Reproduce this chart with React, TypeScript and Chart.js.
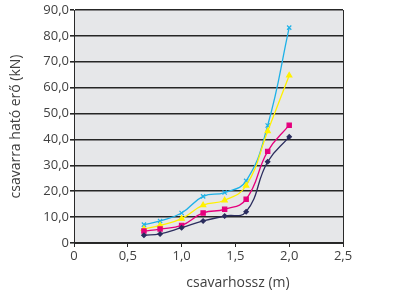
import React, { useEffect, useRef } from "react";
import { Chart, registerables } from "chart.js";

Chart.register(...registerables);

const lengths = [0.65, 0.8, 1.0, 1.2, 1.4, 1.6, 1.8, 2.0];
const seriesNavy = [3.0, 3.5, 5.9, 8.5, 10.4, 12.1, 31.4, 41.0];
const seriesMagenta = [4.6, 5.4, 6.8, 11.6, 13.0, 16.9, 35.4, 45.5];
const seriesYellow = [5.4, 6.8, 9.4, 14.6, 16.5, 22.2, 43.2, 64.7];
const seriesCyan = [7.1, 8.5, 11.6, 18.0, 19.5, 24.0, 45.4, 83.2];
const xTitle = "csavarhossz (m)";
const yTitle = "csavarra ható erő (kN)";

const FONT = "'Open Sans', 'DejaVu Sans', sans-serif";
const TEXT = "#404040";

const fmt = (v: number) => v.toFixed(1).replace(".", ",");

export default function App() {
  const ref = useRef<HTMLCanvasElement | null>(null);
  useEffect(() => {
    if (!ref.current) return;
    const mk = (data: number[], color: string, style: any, r: number) => ({
      data: lengths.map((x, i) => ({ x, y: data[i] })),
      borderColor: color,
      backgroundColor: color,
      borderWidth: 1.3,
      pointStyle: style,
      pointRadius: r,
      pointBorderWidth: 1.2,
      tension: 0.45,
      fill: false,
    });
    const bgPlugin = {
      id: "bg",
      beforeDraw(c: any) {
        const { ctx, chartArea: a } = c;
        ctx.save();
        ctx.fillStyle = "#e6e7e9";
        ctx.fillRect(a.left, a.top, a.right - a.left, a.bottom - a.top);
        ctx.restore();
      },
      afterDraw(c: any) {
        const { ctx, chartArea: a } = c;
        ctx.save();
        ctx.strokeStyle = "#2a2a2a";
        ctx.lineWidth = 1;
        ctx.beginPath();
        ctx.moveTo(a.right + 0.5, a.top);
        ctx.lineTo(a.right + 0.5, a.bottom);
        ctx.stroke();
        ctx.fillStyle = TEXT;
        ctx.font = `14px ${FONT}`;
        ctx.textAlign = "center";
        ctx.textBaseline = "middle";
        ctx.fillText(xTitle, 238, 283);
        ctx.restore();
      },
    };
    const chart = new Chart(ref.current, {
      type: "line",
      data: {
        datasets: [
          mk(seriesNavy, "#2b2d5e", "rectRot", 2.2),
          mk(seriesMagenta, "#e5007d", "rect", 3),
          mk(seriesYellow, "#fff100", "triangle", 3),
          mk(seriesCyan, "#1eb1e7", "crossRot", 3),
        ],
      },
      options: {
        animation: false,
        responsive: false,
        maintainAspectRatio: false,
        layout: { padding: { top: 10, right: 72, left: 0, bottom: 0 } },
        plugins: { legend: { display: false }, tooltip: { enabled: false } },
        scales: {
          x: {
            type: "linear",
            min: 0,
            max: 2.5,
            afterFit: (s: any) => {
              s.height = 55;
            },
            ticks: {
              stepSize: 0.5,
              color: TEXT,
              font: { size: 13, family: FONT },
              padding: 1,
              maxRotation: 0,
              callback: (v: any) => (v === 0 ? "0" : fmt(Number(v))),
            },
            grid: {
              drawOnChartArea: false,
              drawTicks: true,
              tickLength: 4,
              color: "#2a2a2a",
            },
            border: { color: "#2a2a2a", width: 1 },
          },
          y: {
            min: 0,
            max: 90,
            afterFit: (s: any) => {
              s.width = 74;
            },
            ticks: {
              stepSize: 10,
              color: TEXT,
              font: { size: 13, family: FONT },
              padding: 1,
              callback: (v: any) => (v === 0 ? "0" : fmt(Number(v))),
            },
            grid: {
              color: "#262626",
              lineWidth: 1.6,
              tickLength: 4,
            },
            border: { color: "#2a2a2a", width: 1 },
            title: {
              display: true,
              text: yTitle,
              color: TEXT,
              font: { size: 14, family: FONT },
              padding: { top: 8, bottom: 0 },
            },
          },
        },
      },
      plugins: [bgPlugin],
    });
    return () => chart.destroy();
  }, []);
  return (
    <div style={{ position: "absolute", left: 0, top: 0, width: 415, height: 298, background: "#fff" }}>
      <canvas ref={ref} width={415} height={298} style={{ width: 415, height: 298 }} />
    </div>
  );
}
